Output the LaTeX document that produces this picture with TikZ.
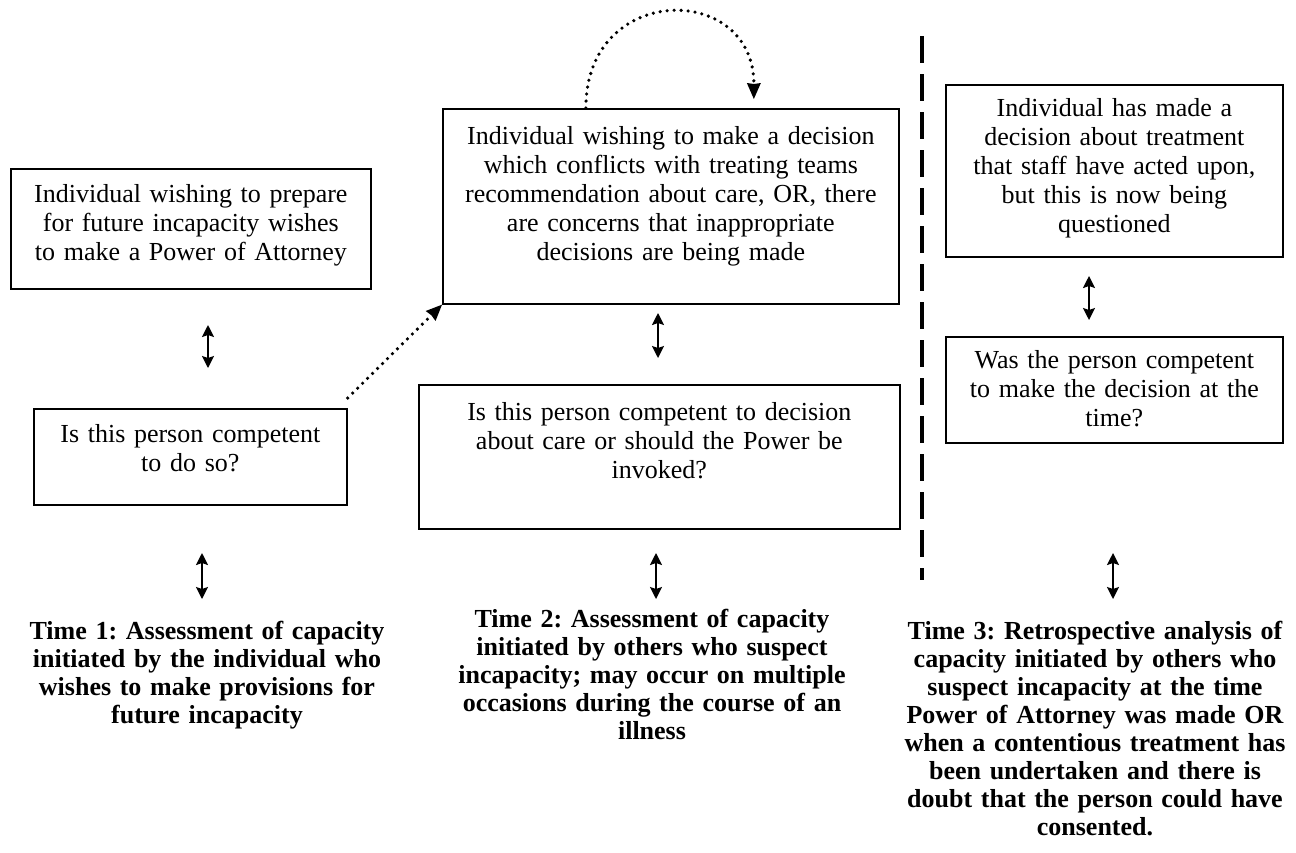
\documentclass[tikz,border=0pt]{standalone}
\usepackage{fontspec}
\setmainfont{Liberation Serif}
\usetikzlibrary{arrows.meta}
\frenchspacing
\begin{document}
\frenchspacing
\begin{tikzpicture}[x=1pt,y=-1pt,
  box/.style={draw, line width=1.7pt, inner sep=0pt, anchor=north west},
  txt/.style={anchor=base, inner sep=0pt, align=center, text width=470pt, font=\fontsize{26}{29}\selectfont},
  lbl/.style={anchor=base, inner sep=0pt, align=center, text width=420pt, font=\fontsize{26}{28}\selectfont\bfseries},
  dbl/.style={line width=1.8pt, {Stealth[length=12pt,width=12pt,inset=2pt]}-{Stealth[length=12pt,width=12pt,inset=2pt]}},
  dots/.style={line width=3.6pt, line cap=round, dash pattern=on 0pt off 7pt, -{Stealth[length=16pt,width=14pt,inset=1pt,line width=0pt]}},
  sep/.style={line width=4pt, dash pattern=on 27pt off 11pt}]
\useasboundingbox (0,0) rectangle (1296,852);

% boxes
\node[box, minimum width=360pt, minimum height=120pt] (b1) at (10,168) {};
\node[box, minimum width=313pt, minimum height=96pt]  (b2) at (33,408) {};
\node[box, minimum width=456pt, minimum height=195pt] (b3) at (442,108) {};
\node[box, minimum width=481pt, minimum height=144pt] (b4) at (418,384) {};
\node[box, minimum width=337pt, minimum height=172pt] (b5) at (945,84) {};
\node[box, minimum width=337pt, minimum height=106pt] (b6) at (945,336) {};

% box texts
\node[txt, yshift=-34pt] (t1) at (b1.north) {Individual wishing to prepare\\for future incapacity wishes\\to make a Power of Attorney};
\node[txt, yshift=-34pt] (t2) at (b2.north) {Is this person competent\\to do so?};
\node[txt, yshift=-36pt] (t3) at (b3.north) {Individual wishing to make a decision\\which conflicts with treating teams\\recommendation about care, OR, there\\are concerns that inappropriate\\decisions are being made};
\node[txt, yshift=-36pt] (t4) at (b4.north) {Is this person competent to decision\\about care or should the Power be\\invoked?};
\node[txt, yshift=-32pt] (t5) at (b5.north) {Individual has made a\\decision about treatment\\that staff have acted upon,\\but this is now being\\questioned};
\node[txt, yshift=-32pt] (t6) at (b6.north) {Was the person competent\\to make the decision at the\\time?};

% bottom labels
\node[lbl] (l1) at (207,639) {Time 1: Assessment of capacity\\initiated by the individual who\\wishes to make provisions for\\future incapacity};
\node[lbl] (l2) at (652,627) {Time 2: Assessment of capacity\\initiated by others who suspect\\incapacity; may occur on multiple\\occasions during the course of an\\illness};
\node[lbl] (l3) at (1095,639) {Time 3: Retrospective analysis of\\capacity initiated by others who\\suspect incapacity at the time\\Power of Attorney was made OR\\when a contentious treatment has\\been undertaken and there is\\doubt that the person could have\\consented.};

% double arrows
\coordinate (a1a) at (208,325); \coordinate (a1b) at (208,368);
\coordinate (a2a) at (202,553); \coordinate (a2b) at (202,599);
\coordinate (a3a) at (658,313); \coordinate (a3b) at (658,358);
\coordinate (a4a) at (656,553); \coordinate (a4b) at (656,599);
\coordinate (a5a) at (1089,276); \coordinate (a5b) at (1089,320);
\coordinate (a6a) at (1113,553); \coordinate (a6b) at (1113,599);
\draw[dbl] (a1a) -- (a1b);
\draw[dbl] (a2a) -- (a2b);
\draw[dbl] (a3a) -- (a3b);
\draw[dbl] (a4a) -- (a4b);
\draw[dbl] (a5a) -- (a5b);
\draw[dbl] (a6a) -- (a6b);

% dotted arrows
\draw[dots] ([yshift=10pt]b2.north east) -- (b3.south west);
\coordinate (c1) at ([xshift=-85pt]b3.north);
\coordinate (c2) at ([xshift=83pt,yshift=9pt]b3.north);
\draw[dots] (c1) .. controls +(0,-126) and +(0,-117) .. (c2);

% dashed separator
\coordinate (d1) at (922,36);
\coordinate (d2) at (922,580);
\draw[sep] (d1) -- (d2);
\end{tikzpicture}
\end{document}
